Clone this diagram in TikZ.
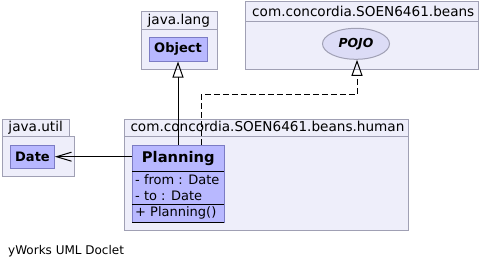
\documentclass[tikz,border=0pt]{standalone}
\usepackage{fontspec}
\setmainfont{DejaVu Sans}
\usetikzlibrary{arrows.meta,shapes.geometric}

\definecolor{pkgfill}{HTML}{EEEEFA}
\definecolor{pkgline}{HTML}{A0A0B4}
\definecolor{clsfill}{HTML}{B8B8FF}
\definecolor{clsline}{HTML}{7C7CC4}
\definecolor{ifcfill}{HTML}{DCDCF6}

\tikzset{
  pkg/.style={draw=pkgline, fill=pkgfill, line width=1pt},
  pkglabel/.style={anchor=base west, inner sep=0pt, font=\fontsize{13.6}{15}\selectfont},
  cls/.style={draw=clsline, fill=clsfill, line width=1pt, inner sep=0pt,
    font=\bfseries\fontsize{13}{14}\selectfont},
  ifc/.style={ellipse, draw=pkgline, fill=ifcfill, line width=1pt, inner sep=0pt,
    font=\bfseries\itshape\fontsize{12.4}{14}\selectfont},
  member/.style={anchor=base west, inner sep=0pt, font=\fontsize{13}{14}\selectfont},
  sep/.style={line width=1pt, draw=black},
  generalize/.style={line width=1pt, -{Triangle[open, length=16pt, width=11pt, line width=1pt]}},
  realize/.style={generalize, dash pattern=on 6pt off 3pt},
  assoc/.style={line width=1pt, -{Straight Barb[length=15pt, width=9pt, line width=1pt]}},
}

\begin{document}
\begin{tikzpicture}[x=1pt, y=-1pt]
  \useasboundingbox (0,0) rectangle (482,268);

  % package java.lang
  \draw[pkg] (141,29.3) rectangle (217,69.3);
  \draw[pkg] (141,11.7) rectangle (217,29.3);
  \node[pkglabel] (langlbl) at (147.5,24.5) {java.lang};

  % package com.concordia.SOEN6461.beans
  \draw[pkg] (245.3,21) rectangle (478.3,69);
  \draw[pkg] (245.3,1) rectangle (478.3,21);
  \node[pkglabel] (beanslbl) at (252,16.5) {com.concordia.SOEN6461.beans};

  % package java.util
  \draw[pkg] (2.3,136) rectangle (74,176);
  \draw[pkg] (2.3,119.3) rectangle (69,136);
  \node[pkglabel] (utillbl) at (8.3,131.7) {java.util};

  % package com.concordia.SOEN6461.beans.human
  \draw[pkg] (124.3,136) rectangle (408.7,230.7);
  \draw[pkg] (124.3,119.3) rectangle (408.7,136);
  \node[pkglabel] (humanlbl) at (130.3,131.7) {com.concordia.SOEN6461.beans.human};

  % classes
  \node[cls, minimum width=58pt, minimum height=24pt] (object) at (178,49) {Object};
  \node[cls, minimum width=43.6pt, minimum height=23.3pt] (date) at (32.5,156.7) {Date};
  \node[ifc, minimum width=67pt, minimum height=31pt] (pojo) at (356,43.8) {POJO};

  % class Planning with its compartments
  \node[cls, minimum width=92pt, minimum height=77.3pt] (planning) at (178.3,183.65) {};
  \node[inner sep=0pt, font=\bfseries\fontsize{14.7}{16}\selectfont] (plname) at (178.3,158.3) {Planning};
  \draw[sep] (132.3,171.3) -- (224.3,171.3);
  \draw[sep] (132.3,204.7) -- (224.3,204.7);
  \draw[sep] (132.3,222.3) -- (224.3,222.3);
  \node[member] (attfrom) at (135,184) {- from : Date};
  \node[member] (attto) at (135,200) {- to : Date};
  \node[member] (ctor) at (135,216.5) {+ Planning()};

  % relations
  \draw[generalize] (object.south |- planning.north) -- (object.south);
  \coordinate (bend) at (357,94.3);
  \draw[realize] ([xshift=22.7pt]planning.north) |- (bend) -- (bend |- pojo.south);
  \draw[assoc] (date.east -| planning.west) -- (date.east);

  % footer
  \node[anchor=base west, inner sep=0pt, font=\fontsize{12}{14}\selectfont] (footer) at (8,254) {yWorks UML Doclet};
\end{tikzpicture}
\end{document}
